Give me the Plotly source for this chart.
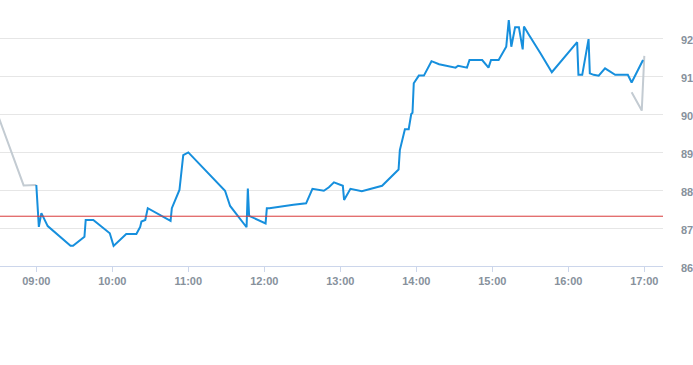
import plotly.graph_objects as go

DAY = "2024-01-02 "

# Main (blue) series
times = ["09:00","09:02","09:04","09:09","09:27","09:29","09:38","09:39","09:45","09:58",
         "10:01","10:11","10:19","10:22","10:23","10:26","10:28","10:46","10:47","10:53",
         "10:56","11:00","11:29","11:33","11:46","11:47","11:48","12:01","12:02","12:04",
         "12:23","12:33","12:38","12:47","12:51","12:55","13:02","13:03","13:08","13:17",
         "13:33","13:46","13:47","13:51","13:54","13:56","13:57","13:58","14:02","14:06",
         "14:12","14:18","14:31","14:33","14:40","14:42","14:52","14:57","14:59","15:05",
         "15:11","15:13","15:15","15:18","15:21","15:24","15:25","15:28","15:29","15:38",
         "15:47","16:07","16:08","16:11","16:16","16:17","16:20","16:24","16:29","16:37",
         "16:47","16:50","16:59"]
values = [88.13,87.03,87.39,87.05,86.53,86.53,86.77,87.21,87.21,86.86,
          86.53,86.84,86.84,87.03,87.17,87.21,87.52,87.19,87.52,88.00,
          88.92,88.99,87.98,87.58,87.02,88.04,87.32,87.12,87.52,87.52,
          87.61,87.65,88.03,87.98,88.07,88.20,88.11,87.74,88.03,87.97,
          88.11,88.54,89.05,89.60,89.60,90.00,90.03,90.81,91.01,91.01,
          91.39,91.31,91.22,91.27,91.22,91.42,91.42,91.22,91.42,91.42,
          91.77,92.47,91.77,92.28,92.28,91.70,92.30,92.11,92.08,91.60,
          91.10,91.89,91.03,91.03,91.97,91.07,91.03,91.01,91.20,91.03,
          91.03,90.83,91.42]

# Secondary (grey) series, with a gap
grey_times = ["08:30","08:50","09:00",None,"16:50","16:58","17:00"]
grey_values = [89.94,88.12,88.13,None,90.57,90.09,91.53]

ref_level = 87.31

y_ticks = [86,87,88,89,90,91,92]
x_ticks = ["09:00","10:00","11:00","12:00","13:00","14:00","15:00","16:00","17:00"]

def ts(t):
    return None if t is None else DAY + t + ":00"

fig = go.Figure()
fig.add_trace(go.Scatter(
    x=[ts(t) for t in grey_times], y=grey_values, mode="lines",
    line=dict(color="#c3cbd2", width=2), connectgaps=False, hoverinfo="skip",
    showlegend=False))
fig.add_trace(go.Scatter(
    x=[ts(t) for t in times], y=values, mode="lines",
    line=dict(color="#168fdd", width=2), showlegend=False))

fig.add_shape(type="line", xref="paper", x0=0, x1=1, yref="y", y0=ref_level, y1=ref_level,
              line=dict(color="#d93a3a", width=1))

lab_font = dict(family="Liberation Sans, Arial, sans-serif", size=11, color="#87919c",
                weight="bold")

fig.update_layout(
    width=693, height=365,
    margin=dict(l=0, r=30, t=10, b=99, autoexpand=False),
    paper_bgcolor="white", plot_bgcolor="white",
    xaxis=dict(
        type="date",
        range=[DAY + "08:31:20", DAY + "17:14:46"],
        tickvals=[ts(t) for t in x_ticks], ticktext=x_ticks,
        showgrid=False, zeroline=False,
        showline=True, linecolor="#ccd6eb", linewidth=1,
        ticks="outside", ticklen=5, tickcolor="#ccd6eb", tickwidth=1,
        tickfont=lab_font,
    ),
    yaxis=dict(
        range=[86, 86 + 256/38], side="right",
        tickvals=y_ticks, ticktext=[str(v) for v in y_ticks],
        showgrid=True, gridcolor="#e6e6e6", gridwidth=1,
        zeroline=False, showline=False, ticks="",
        ticklabelstandoff=17, ticklabelshift=2,
        tickfont=lab_font,
    ),
)

fig.write_html("out.html")
